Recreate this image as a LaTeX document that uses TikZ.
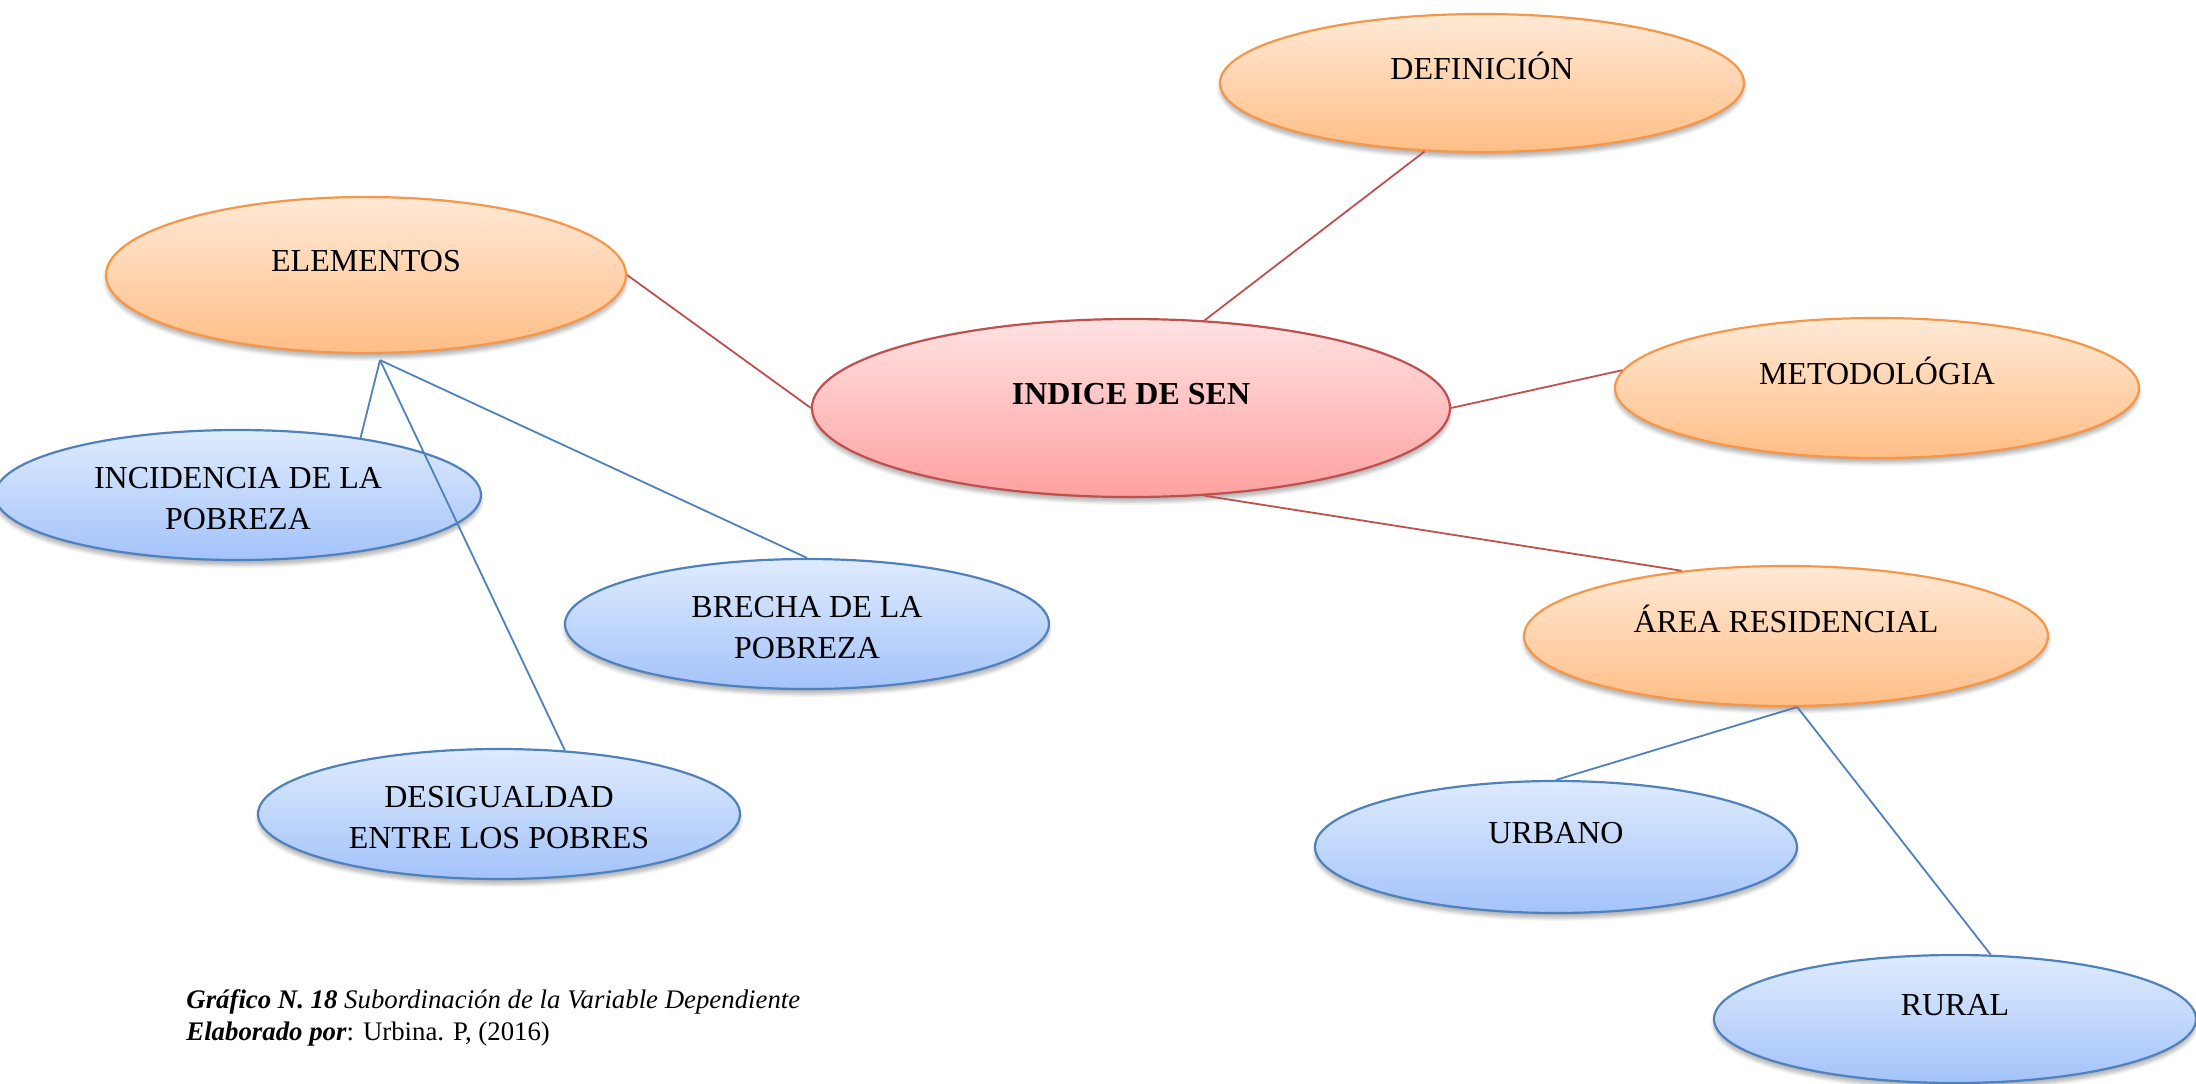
\documentclass[tikz,border=0pt]{standalone}
\usepackage{fontspec}
\setmainfont{Liberation Serif}
\usetikzlibrary{shapes.geometric,shadows.blur}
\definecolor{naranjaborde}{RGB}{247,150,70}
\definecolor{naranjaarriba}{RGB}{255,233,214}
\definecolor{naranjaabajo}{RGB}{255,190,134}
\definecolor{azulborde}{RGB}{79,129,189}
\definecolor{azularriba}{RGB}{223,235,253}
\definecolor{azulabajo}{RGB}{163,195,250}
\definecolor{rojoborde}{RGB}{192,80,77}
\definecolor{rojoarriba}{RGB}{255,226,226}
\definecolor{rojoabajo}{RGB}{255,160,160}
\tikzset{
  burbuja/.style={ellipse,inner sep=0pt,line width=1.1pt,font=\fontsize{16}{20.3}\selectfont,
    blur shadow={shadow xshift=0pt,shadow yshift=-2.5pt,shadow blur steps=6,shadow opacity=30}},
  naranja/.style={burbuja,draw=naranjaborde,top color=naranjaarriba,bottom color=naranjaabajo},
  azul/.style={burbuja,draw=azulborde,top color=azularriba,bottom color=azulabajo},
  rojo/.style={burbuja,draw=rojoborde,top color=rojoarriba,bottom color=rojoabajo},
  unalinea/.style={text height=11pt,text depth=14.4pt},
  doslineas/.style={align=center},
  lrojo/.style={draw=rojoborde,line width=0.9pt},
  lazul/.style={draw=azulborde,line width=0.9pt}
}
\begin{document}
\begin{tikzpicture}[x=0.5pt,y=-0.5pt]
\useasboundingbox(0,0)rectangle(2196,1083);
% conceptos
\node[rojo,unalinea,minimum width=319pt,minimum height=89pt](sen)at(1131,408){\textbf{INDICE DE SEN}};
\node[naranja,unalinea,minimum width=262pt,minimum height=69pt](def)at(1482,83){DEFINICIÓN};
\node[naranja,unalinea,minimum width=260pt,minimum height=78pt](elem)at(366,275){ELEMENTOS};
\node[naranja,unalinea,minimum width=262pt,minimum height=70pt](met)at(1877,388){METODOLÓGIA};
\node[naranja,unalinea,minimum width=262pt,minimum height=70pt](area)at(1786,636){ÁREA RESIDENCIAL};
% subconceptos
\node[azul,doslineas,minimum width=243pt,minimum height=65pt](inc)at(238,495){\strut INCIDENCIA DE LA\\POBREZA};
\node[azul,doslineas,minimum width=242pt,minimum height=65pt](brecha)at(807,624){\strut BRECHA DE LA\\POBREZA};
\node[azul,doslineas,minimum width=241pt,minimum height=65pt](desig)at(499,814){\strut DESIGUALDAD\\ENTRE LOS POBRES};
\node[azul,unalinea,minimum width=241pt,minimum height=66pt](urb)at(1556,847){URBANO};
\node[azul,unalinea,minimum width=241pt,minimum height=64pt](rural)at(1955,1019){RURAL};
% lineas
\coordinate(nudo)at([shift={(7pt,-3pt)}]elem.south);
\draw[lrojo](sen.50)--(def.230);
\draw[lrojo](elem.east)--(sen.west);
\draw[lrojo](sen.east)--(met.176);
\draw[lrojo](sen.-50)--(area.148);
\draw[lazul](nudo)--(inc.25);
\draw[lazul](nudo)--(brecha.north);
\draw[lazul](nudo)--(desig.44);
\draw[lazul](area.-81)--(urb.north);
\draw[lazul](area.-81)--(rural.61);
% pie
\node[anchor=west,align=left,inner sep=0pt,font=\fontsize{13.4}{16.1}\selectfont](pie)at(186,1018){\textbf{\textit{Gráfico N. 18}} \textit{Subordinación de la Variable Dependiente}\\\textbf{\textit{Elaborado por}}: Urbina. P, (2016)};
\end{tikzpicture}
\end{document}
